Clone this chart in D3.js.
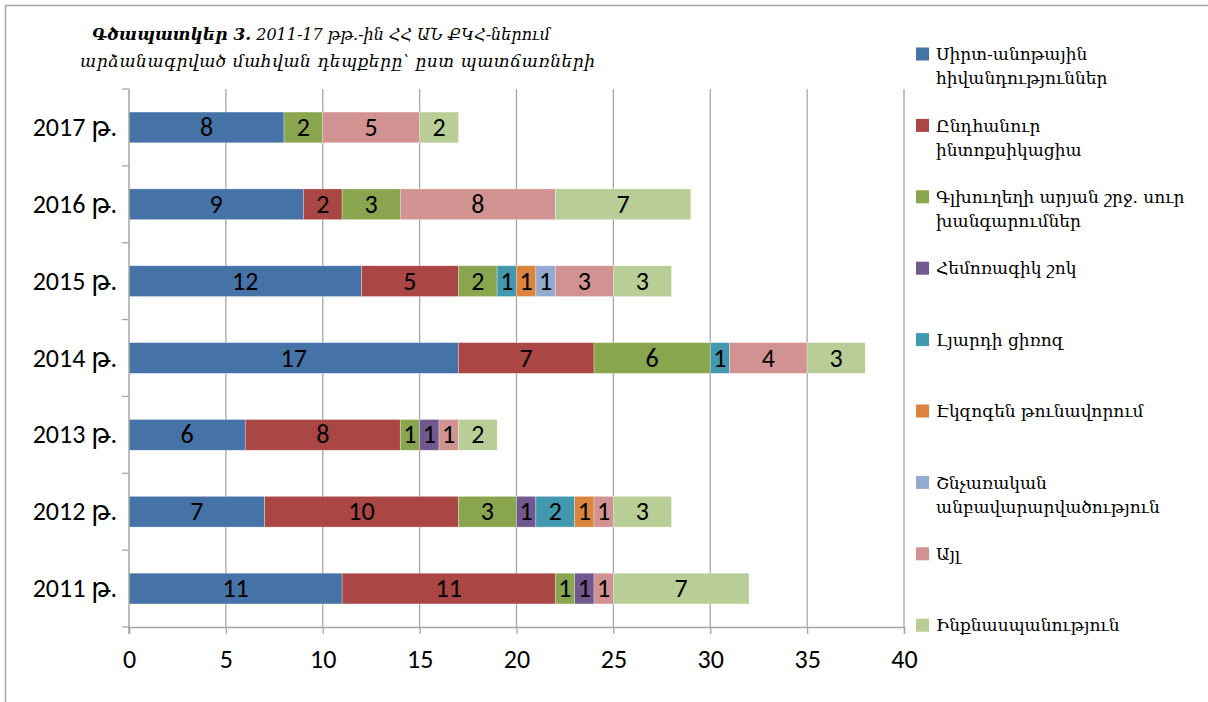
<!DOCTYPE html>
<html>
<head>
<meta charset="utf-8">
<script src="https://cdn.jsdelivr.net/npm/d3@7"></script>
<style>
  body { margin: 0; background: #fff; }
  svg { display: block; }
</style>
</head>
<body>
<div id="chart"></div>
<script>
// years top to bottom as in the picture
let years = ["2017 թ.", "2016 թ.", "2015 թ.", "2014 թ.", "2013 թ.", "2012 թ.", "2011 թ."];

let causes = [
  "Սիրտ-անոթային հիվանդություններ",
  "Ընդհանուր ինտոքսիկացիա",
  "Գլխուղեղի արյան շրջ. սուր խանգարումներ",
  "Հեմոռագիկ շոկ",
  "Լյարդի ցիռոզ",
  "Էկզոգեն թունավորում",
  "Շնչառական անբավարարվածություն",
  "Այլ",
  "Ինքնասպանություն"
];

// legend lines (wrapped as in the picture)
let legendLines = [
  ["Սիրտ-անոթային", "հիվանդություններ"],
  ["Ընդհանուր", "ինտոքսիկացիա"],
  ["Գլխուղեղի արյան շրջ. սուր", "խանգարումներ"],
  ["Հեմոռագիկ շոկ"],
  ["Լյարդի ցիռոզ"],
  ["Էկզոգեն թունավորում"],
  ["Շնչառական", "անբավարարվածություն"],
  ["Այլ"],
  ["Ինքնասպանություն"]
];

let colors = ["#4572A7", "#AA4643", "#89A54E", "#71588F", "#4198AF", "#DB843D", "#93A9CF", "#D19392", "#B9CD96"];

// values per cause, in the order of years above (2017 ... 2011)
let cardio   = [8, 9, 12, 17, 6, 7, 11];
let intox    = [0, 2, 5, 7, 8, 10, 11];
let brain    = [2, 3, 2, 6, 1, 3, 1];
let shock    = [0, 0, 0, 0, 1, 1, 1];
let cirrhosis= [0, 0, 1, 1, 0, 2, 0];
let poison   = [0, 0, 1, 0, 0, 1, 0];
let resp     = [0, 0, 1, 0, 0, 0, 0];
let other    = [5, 8, 3, 4, 1, 1, 1];
let suicide  = [2, 7, 3, 3, 2, 3, 7];

let series = [cardio, intox, brain, shock, cirrhosis, poison, resp, other, suicide];
let xTicks = [0, 5, 10, 15, 20, 25, 30, 35, 40];

let W = 1208, H = 702;
let plotL = 129, plotR = 904, plotT = 89, plotB = 627;
let numFont = "Carlito, Lato, 'Open Sans', 'DejaVu Sans', sans-serif";
let armFont = "'DejaVu Serif', serif";
let numSize = "26px";

let rows = years.map(function(yr, i) {
  let r = { year: yr };
  causes.forEach(function(c, j) { r[c] = series[j][i]; });
  return r;
});

let svg = d3.select("#chart").append("svg")
  .attr("width", W)
  .attr("height", H);

// outer frame
svg.append("rect")
  .attr("x", 5.5).attr("y", 5.5)
  .attr("width", W + 20).attr("height", H + 20)
  .attr("fill", "none")
  .attr("stroke", "#a6a6a6")
  .attr("stroke-width", 1.5);

let x = d3.scaleLinear().domain([0, 40]).range([plotL, plotR]);
let y = d3.scaleBand().domain(years).range([plotT, plotB]).paddingInner(0.6).paddingOuter(0.3);

// gridlines
svg.append("g").selectAll("line")
  .data(xTicks.slice(1))
  .enter().append("line")
  .attr("x1", function(d) { return x(d); })
  .attr("x2", function(d) { return x(d); })
  .attr("y1", plotT).attr("y2", plotB)
  .attr("stroke", "#a6a6a6")
  .attr("stroke-width", 1.3);

// stacked bars
let stack = d3.stack().keys(causes)(rows);

let layers = svg.append("g").selectAll("g")
  .data(stack)
  .enter().append("g")
  .attr("fill", function(d, i) { return colors[i]; });

layers.selectAll("rect")
  .data(function(d) { return d.filter(function(p) { return p[1] > p[0]; }); })
  .enter().append("rect")
  .attr("x", function(d) { return x(d[0]); })
  .attr("y", function(d) { return y(d.data.year); })
  .attr("width", function(d) { return x(d[1]) - x(d[0]); })
  .attr("height", y.bandwidth())
  .attr("stroke", "rgba(255,255,255,0.5)")
  .attr("stroke-width", 0.6);

layers.selectAll("text")
  .data(function(d) { return d.filter(function(p) { return p[1] > p[0]; }); })
  .enter().append("text")
  .attr("x", function(d) { return (x(d[0]) + x(d[1])) / 2; })
  .attr("y", function(d) { return y(d.data.year) + y.bandwidth() / 2; })
  .attr("dy", "0.33em")
  .attr("text-anchor", "middle")
  .attr("fill", "#000")
  .style("font-family", numFont)
  .style("font-size", numSize)
  .text(function(d) { return d[1] - d[0]; });

// x axis
let xAxis = svg.append("g")
  .attr("transform", "translate(0," + plotB + ")")
  .call(d3.axisBottom(x).tickValues(xTicks).tickSize(7).tickPadding(16));
xAxis.select(".domain").attr("stroke", "#a6a6a6").attr("stroke-width", 1.5);
xAxis.selectAll(".tick line").attr("stroke", "#a6a6a6").attr("stroke-width", 1.3);
xAxis.selectAll("text")
  .attr("fill", "#000")
  .style("font-family", numFont)
  .style("font-size", numSize);

// y axis: ticks at band edges
let yEdge = d3.scaleLinear().domain([0, years.length]).range([plotT, plotB]);
svg.append("line")
  .attr("x1", plotL).attr("x2", plotL)
  .attr("y1", plotT).attr("y2", plotB + 7)
  .attr("stroke", "#a6a6a6").attr("stroke-width", 1.5);
svg.append("g").selectAll("line")
  .data(d3.range(years.length + 1))
  .enter().append("line")
  .attr("x1", plotL - 7).attr("x2", plotL)
  .attr("y1", function(d) { return yEdge(d); })
  .attr("y2", function(d) { return yEdge(d); })
  .attr("stroke", "#a6a6a6").attr("stroke-width", 1.3);

svg.append("g").selectAll("text")
  .data(years)
  .enter().append("text")
  .attr("x", plotL - 12)
  .attr("y", function(d) { return y(d) + y.bandwidth() / 2; })
  .attr("dy", "0.33em")
  .attr("text-anchor", "end")
  .attr("fill", "#000")
  .style("font-family", numFont)
  .style("font-size", numSize)
  .text(function(d) { return d; });

// title
let title = svg.append("text")
  .attr("x", 92).attr("y", 40)
  .style("font-family", armFont)
  .style("font-size", "16px")
  .style("font-style", "italic");
title.append("tspan").style("font-weight", "bold").style("font-size", "17px").text("Գծապատկեր 3.");
title.append("tspan").text(" 2011-17 թթ.-ին ՀՀ ԱՆ ՔԿՀ-ներում");
svg.append("text")
  .attr("x", 80).attr("y", 67)
  .attr("textLength", 515)
  .attr("lengthAdjust", "spacing")
  .style("font-family", armFont)
  .style("font-size", "17px")
  .style("font-style", "italic")
  .text("արձանագրված մահվան դեպքերը՝ ըստ պատճառների");

// legend
let legend = svg.append("g").selectAll("g")
  .data(legendLines)
  .enter().append("g")
  .attr("transform", function(d, i) { return "translate(916," + (54 + i * 71.4) + ")"; });

legend.append("rect")
  .attr("x", 0).attr("y", -6.5)
  .attr("width", 13).attr("height", 13)
  .attr("fill", function(d, i) { return colors[i]; });

legend.append("text")
  .attr("x", 20)
  .attr("y", 0)
  .style("font-family", armFont)
  .style("font-size", "17px")
  .attr("fill", "#000")
  .selectAll("tspan")
  .data(function(d) { return d; })
  .enter().append("tspan")
  .attr("x", 20)
  .attr("dy", function(d, i) { return i === 0 ? "0.36em" : "24px"; })
  .text(function(d) { return d; });
</script>
</body>
</html>
